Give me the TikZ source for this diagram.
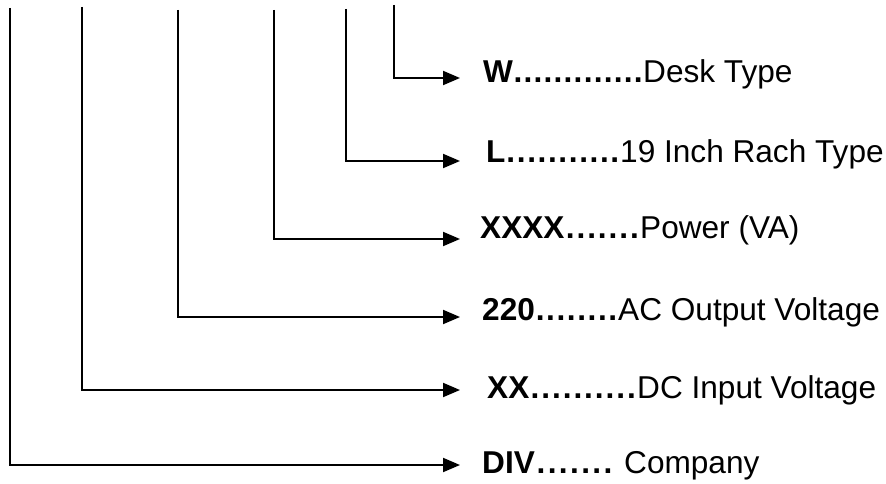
\documentclass[tikz,border=0pt]{standalone}
\usepackage{fontspec}
\setmainfont{Liberation Sans}
\usetikzlibrary{arrows.meta}
\newcommand{\lab}[4]{\makebox[#2pt][l]{\textbf{#1}\xleaders\hbox to 10pt{\hss\textbf{.}\hss}\hfill}\hspace{#3pt}#4}
\tikzset{
  lbl/.style={anchor=base west, inner sep=0pt, font=\fontsize{31.6}{36}\selectfont},
  conn/.style={line width=2pt, -{Triangle[length=17pt,width=14pt]}},
}
\begin{document}
\begin{tikzpicture}[x=1pt,y=-1pt]
\useasboundingbox (0,0) rectangle (886,484);
% labels
\node[lbl] (w)   at (483,83)  {\lab{W}{160}{0}{Desk Type}};
\node[lbl] (l)   at (486,162) {\lab{L}{134}{0}{19 Inch Rach Type}};
\node[lbl] (x4)  at (480,238) {\lab{XXXX}{160}{0}{Power (VA)}};
\node[lbl] (v)   at (482,320) {\lab{220}{136}{0}{AC Output Voltage}};
\node[lbl] (x2)  at (487,398) {\lab{XX}{150}{0}{DC Input Voltage}};
\node[lbl] (div) at (482,473) {\lab{DIV}{132}{10}{Company}};
% tops of the vertical lines
\coordinate (t1) at (10,8);
\coordinate (t2) at (82,7);
\coordinate (t3) at (178,10);
\coordinate (t4) at (274,10);
\coordinate (t5) at (346,9);
\coordinate (t6) at (394,5);
% arrow tips
\coordinate (a1) at (460,465);
\coordinate (a2) at (460,390);
\coordinate (a3) at (460,317);
\coordinate (a4) at (460,239);
\coordinate (a5) at (460,161);
\coordinate (a6) at (460,78);
\draw[conn] (t1) |- (a1);
\draw[conn] (t2) |- (a2);
\draw[conn] (t3) |- (a3);
\draw[conn] (t4) |- (a4);
\draw[conn] (t5) |- (a5);
\draw[conn] (t6) |- (a6);
\end{tikzpicture}
\end{document}
